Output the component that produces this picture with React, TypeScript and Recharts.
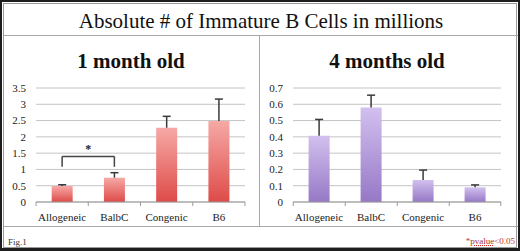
import React from 'react';
import { BarChart, Bar, XAxis, YAxis, CartesianGrid, ReferenceLine } from 'recharts';

const categories = ['Allogeneic', 'BalbC', 'Congenic', 'B6'];

const oneMonthValues = [0.49, 0.745, 2.28, 2.49];
const oneMonthErrors = [0.04, 0.155, 0.35, 0.67];
const oneMonthTicks = [0, 0.5, 1, 1.5, 2, 2.5, 3, 3.5];

const fourMonthValues = [0.407, 0.581, 0.135, 0.09];
const fourMonthErrors = [0.1, 0.075, 0.061, 0.015];
const fourMonthTicks = [0, 0.1, 0.2, 0.3, 0.4, 0.5, 0.6, 0.7];

// bracket for the significance mark (1 month)
const bracketLow = 1.08;
const bracketHigh = 1.4;

const FONT = '"Liberation Serif", "DejaVu Serif", serif';

function buildRows(values: number[], errors: number[]) {
  return categories.map((name, i) => ({ name, value: values[i], err: errors[i] }));
}

function ErrorShape(props: any) {
  const { x, y, width, height } = props;
  const cx = x + width / 2;
  return (
    <g stroke="#3a3a3a" strokeWidth={1.5}>
      <line x1={cx} y1={y + height} x2={cx} y2={y} />
      <line x1={cx - 4} y1={y} x2={cx + 4} y2={y} />
    </g>
  );
}

function makeTick(halfBand: number) {
  return function CategoryTick(props: any) {
    const { x, y, payload, index } = props;
    return (
      <g>
        <line x1={x - halfBand} y1={y - 8} x2={x - halfBand} y2={y - 4} stroke="#9a9a9a" />
        {index === categories.length - 1 && (
          <line x1={x + halfBand} y1={y - 8} x2={x + halfBand} y2={y - 4} stroke="#9a9a9a" />
        )}
        <text x={x} y={y + 11} textAnchor="middle" fontFamily={FONT} fontSize={11} fill="#222">
          {payload.value}
        </text>
      </g>
    );
  };
}

interface PanelProps {
  rows: { name: string; value: number; err: number }[];
  ticks: number[];
  gradientId: string;
  topColor: string;
  bottomColor: string;
  yWidth: number;
  rightMargin: number;
  halfBand: number;
  children?: React.ReactNode;
}

function Panel({ rows, ticks, gradientId, topColor, bottomColor, yWidth, rightMargin, halfBand, children }: PanelProps) {
  return (
    <BarChart
      width={260}
      height={146}
      data={rows}
      margin={{ top: 8, right: rightMargin, bottom: 4, left: 0 }}
      barCategoryGap="30%"
    >
      <defs>
        <linearGradient id={gradientId} x1="0" y1="0" x2="0" y2="1">
          <stop offset="0%" stopColor={topColor} />
          <stop offset="100%" stopColor={bottomColor} />
        </linearGradient>
      </defs>
      <CartesianGrid vertical={false} stroke="#c4c4c4" />
      <XAxis
        dataKey="name"
        stroke="#9a9a9a"
        tickLine={false}
        height={20}
        interval={0}
        tick={makeTick(halfBand)}
      />
      <YAxis
        domain={[ticks[0], ticks[ticks.length - 1]]}
        ticks={ticks}
        interval={0}
        width={yWidth}
        axisLine={false}
        tickLine={false}
        tick={{ fontFamily: FONT, fontSize: 11, fill: '#222' }}
        tickMargin={4}
      />
      <Bar dataKey="value" stackId="a" fill={`url(#${gradientId})`} isAnimationActive={false} />
      <Bar dataKey="err" stackId="a" shape={<ErrorShape />} isAnimationActive={false} />
      {children}
    </BarChart>
  );
}

export default function App() {
  const leftRows = buildRows(oneMonthValues, oneMonthErrors);
  const rightRows = buildRows(fourMonthValues, fourMonthErrors);

  return (
    <div
      style={{
        position: 'absolute',
        left: 0,
        top: 0,
        width: 520,
        height: 251,
        boxSizing: 'border-box',
        border: '2px solid #1e1e1e',
        borderBottomWidth: 3,
        background: '#fff',
        fontFamily: FONT,
        overflow: 'hidden',
      }}
    >
      <div
        style={{
          position: 'absolute',
          left: 1,
          top: 1,
          right: 1,
          bottom: 0,
          border: '1px solid #9a9a9a',
        }}
      />
      {/* title band */}
      <div
        style={{
          position: 'absolute',
          left: 2,
          top: 2,
          width: 514,
          height: 31,
          borderBottom: '1px solid #a8a8a8',
          textAlign: 'center',
          fontSize: 21,
          lineHeight: '34px',
          color: '#111',
        }}
      >
        Absolute # of Immature B Cells in millions
      </div>
      {/* panel frame */}
      <div
        style={{
          position: 'absolute',
          left: 2,
          top: 33,
          width: 514,
          height: 191,
          borderBottom: '1px solid #a8a8a8',
        }}
      />
      <div style={{ position: 'absolute', left: 257, top: 34, width: 1, height: 190, background: '#a8a8a8' }} />

      <div style={{ position: 'absolute', left: 0, top: 47, width: 258, textAlign: 'center', fontSize: 21, fontWeight: 'bold', color: '#111' }}>
        1 month old
      </div>
      <div style={{ position: 'absolute', left: 258, top: 47, width: 254, textAlign: 'center', fontSize: 21, fontWeight: 'bold', color: '#111' }}>
        4 months old
      </div>

      <div style={{ position: 'absolute', left: -2, top: 78 }}>
        <Panel
          rows={leftRows}
          ticks={oneMonthTicks}
          gradientId="redGrad"
          topColor="#f6a9a6"
          bottomColor="#de4b48"
          yWidth={36}
          rightMargin={15}
          halfBand={26.1}
        >
          <ReferenceLine
            segment={[{ x: 'Allogeneic', y: bracketLow }, { x: 'Allogeneic', y: bracketHigh }]}
            stroke="#444"
            strokeWidth={1.5}
          />
          <ReferenceLine
            segment={[{ x: 'BalbC', y: bracketLow }, { x: 'BalbC', y: bracketHigh }]}
            stroke="#444"
            strokeWidth={1.5}
          />
          <ReferenceLine
            segment={[{ x: 'Allogeneic', y: bracketHigh }, { x: 'BalbC', y: bracketHigh }]}
            stroke="#444"
            strokeWidth={1.5}
            label={{ value: '*', position: 'top', fontSize: 12, fontWeight: 'bold', fill: '#222', offset: 3 }}
          />
        </Panel>
      </div>
      <div style={{ position: 'absolute', left: 256, top: 78 }}>
        <Panel
          rows={rightRows}
          ticks={fourMonthTicks}
          gradientId="purpleGrad"
          topColor="#d2c0ee"
          bottomColor="#9678c6"
          yWidth={35}
          rightMargin={17}
          halfBand={25.75}
        />
      </div>

      <div style={{ position: 'absolute', left: 6, top: 235, fontSize: 9, lineHeight: '10px', color: '#333' }}>Fig.1</div>
      <div
        style={{
          position: 'absolute',
          right: 3,
          top: 234,
          fontSize: 9,
          lineHeight: '10px',
          whiteSpace: 'nowrap',
          color: '#c0392b',
        }}
      >
        *<span style={{ textDecoration: 'underline dotted #d22', color: '#a33' }}>pvalue</span>&lt;0.05
      </div>
    </div>
  );
}
